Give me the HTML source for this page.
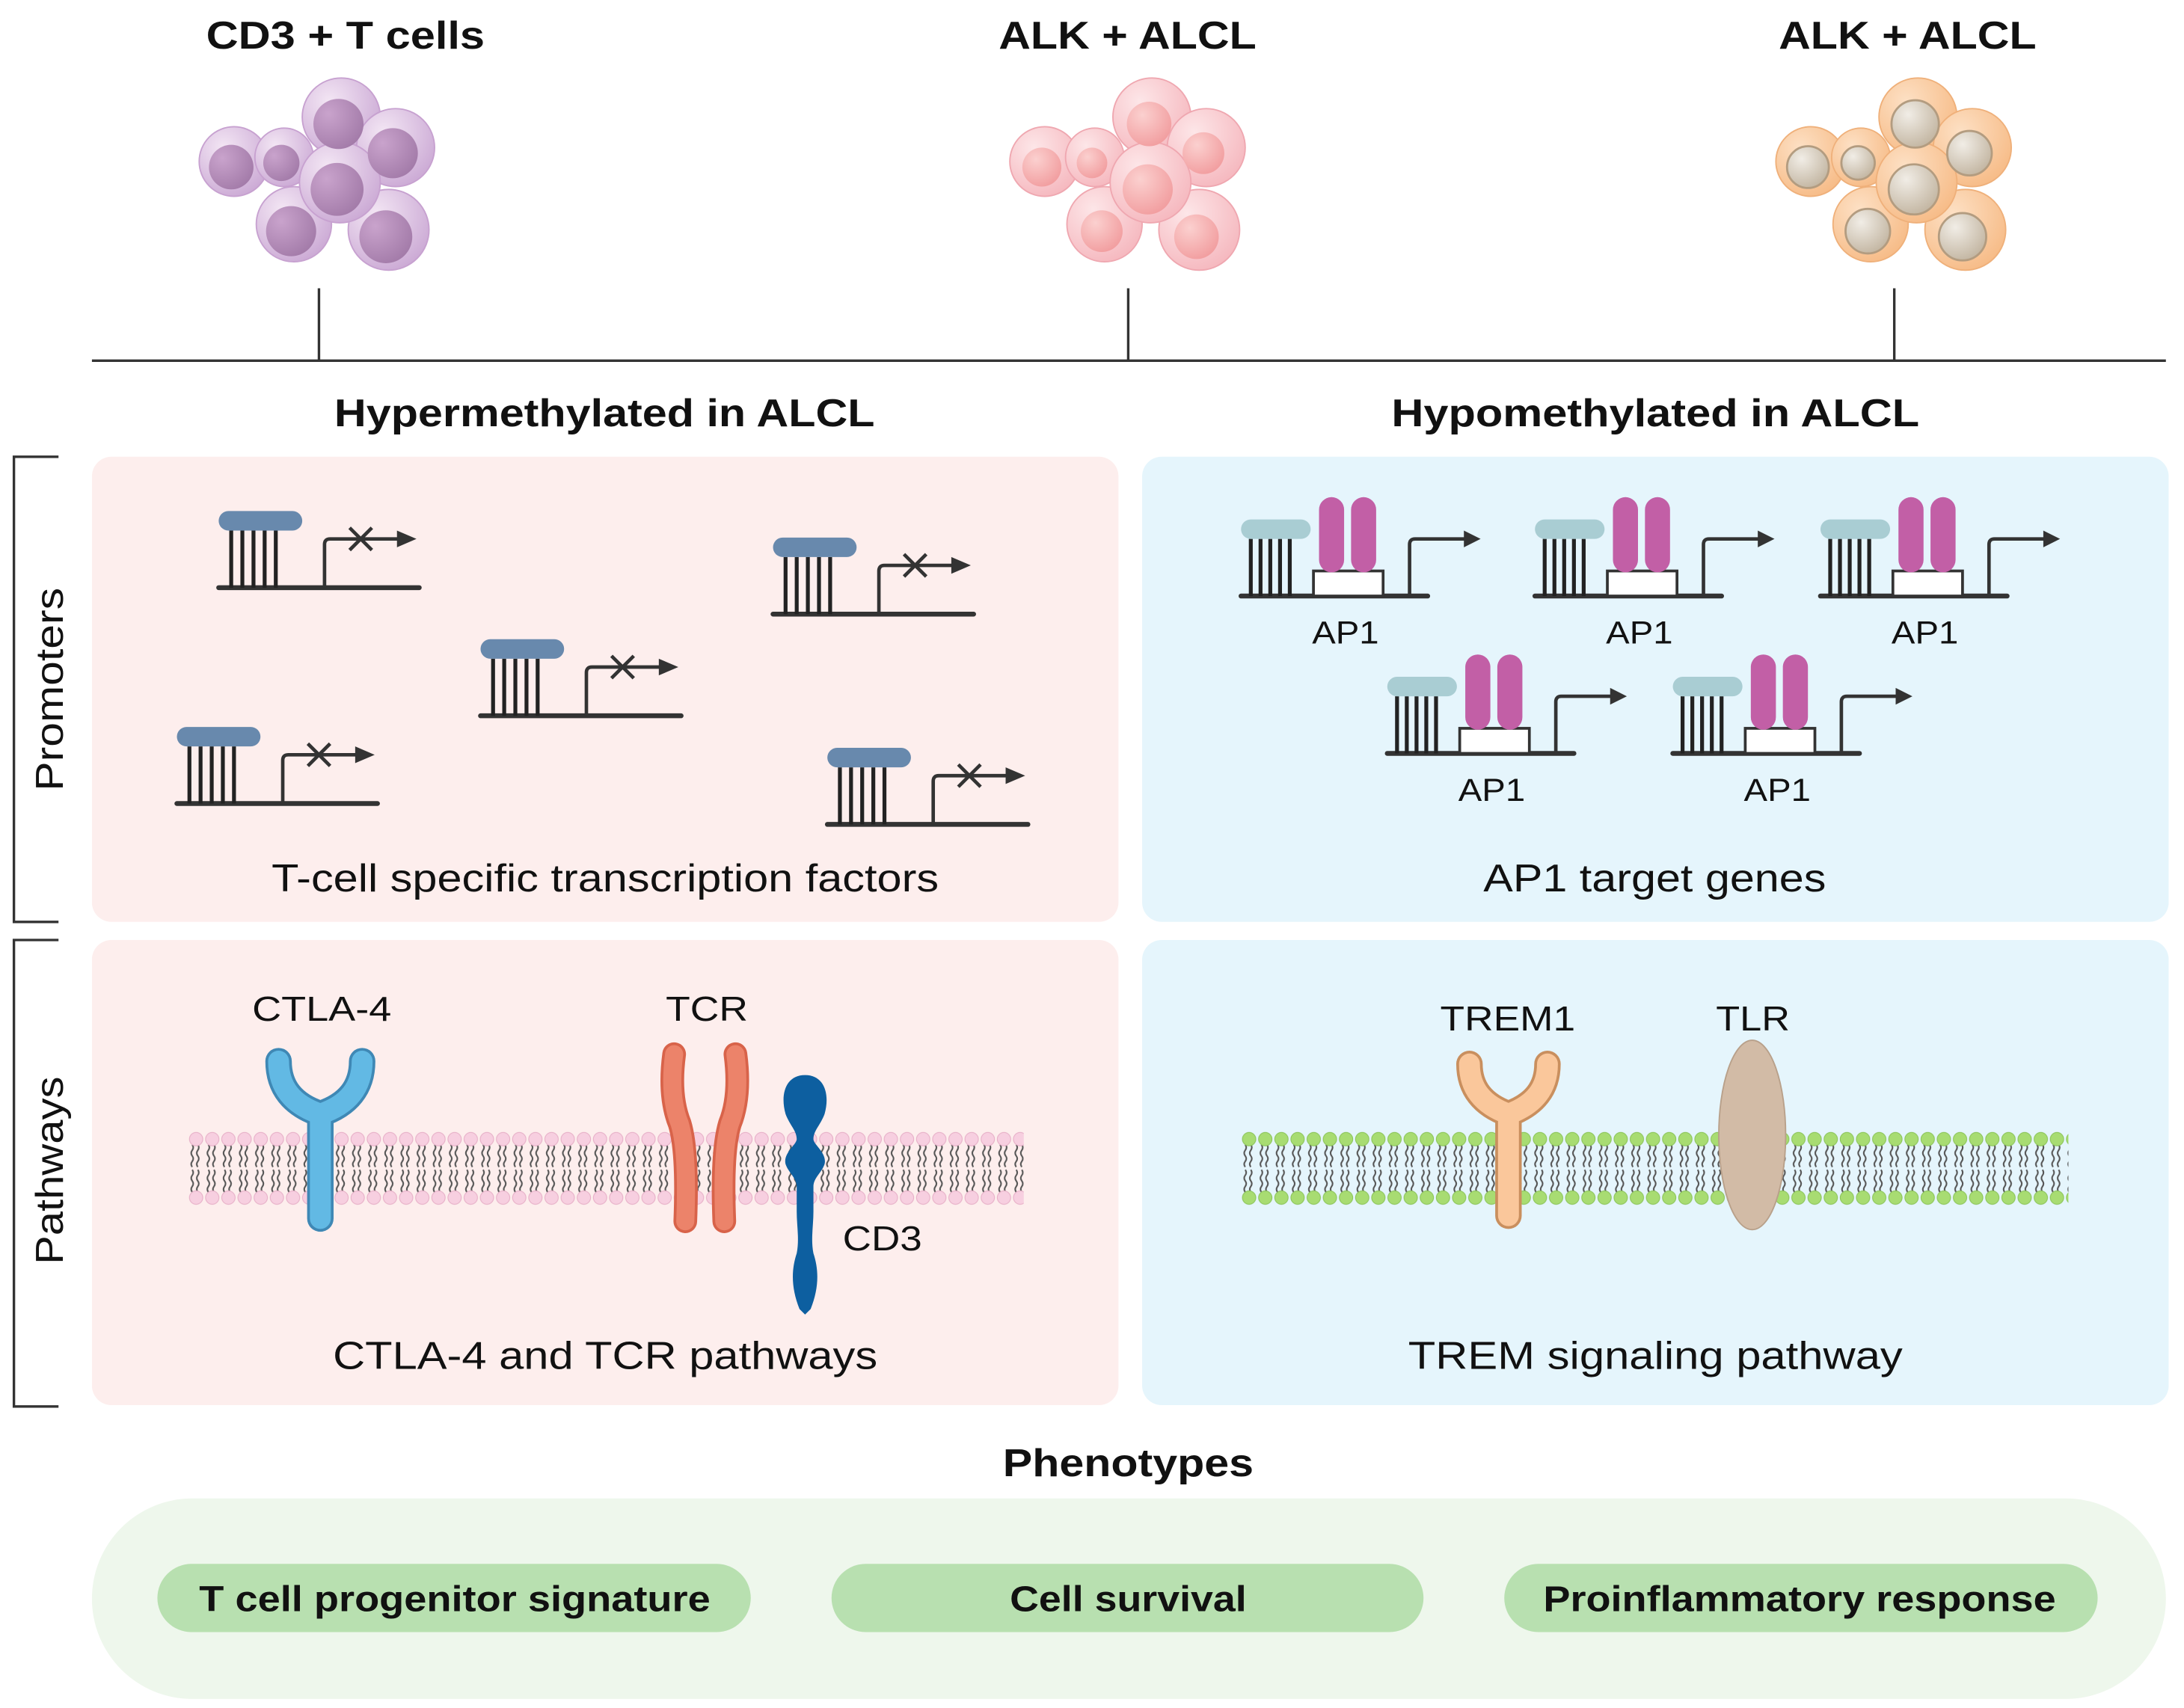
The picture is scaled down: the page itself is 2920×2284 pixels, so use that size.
<!DOCTYPE html>
<html><head><meta charset="utf-8">
<style>
html,body{margin:0;padding:0;background:#fff;}
svg{display:block;}
text{font-family:"Liberation Sans",Arial,sans-serif;fill:#111;}
</style></head>
<body>
<svg width="2920" height="2284" viewBox="0 0 1568 1226.5" preserveAspectRatio="none" xmlns="http://www.w3.org/2000/svg">
<defs>
  <radialGradient id="gP" cx="0.35" cy="0.3" r="0.8"><stop offset="0" stop-color="#f3e6f4"/><stop offset="1" stop-color="#c9a6d3"/></radialGradient>
  <radialGradient id="gPn" cx="0.3" cy="0.3" r="0.8"><stop offset="0" stop-color="#c9a3cc"/><stop offset="1" stop-color="#a27aa8"/></radialGradient>
  <radialGradient id="gK" cx="0.35" cy="0.3" r="0.8"><stop offset="0" stop-color="#fde6e8"/><stop offset="1" stop-color="#f5b5bc"/></radialGradient>
  <radialGradient id="gKn" cx="0.35" cy="0.3" r="0.8"><stop offset="0" stop-color="#fbd0cf"/><stop offset="1" stop-color="#f19a9c"/></radialGradient>
  <radialGradient id="gO" cx="0.35" cy="0.3" r="0.8"><stop offset="0" stop-color="#fde0c4"/><stop offset="1" stop-color="#f6b983"/></radialGradient>
  <radialGradient id="gOn" cx="0.35" cy="0.3" r="0.8"><stop offset="0" stop-color="#f1ede6"/><stop offset="1" stop-color="#bfb19c"/></radialGradient>
  <pattern id="memP" x="135" y="810" width="11.6" height="56" patternUnits="userSpaceOnUse">
    <path d="M3 12 q1.5 2 0 4 q-1.5 2 0 4 q1.5 2 0 4 q-1.5 2 0 4 M7 12 q1.5 2 0 4 q-1.5 2 0 4 q1.5 2 0 4 q-1.5 2 0 4 M3 30 q1.5 2 0 4 q-1.5 2 0 4 q1.5 2 0 4 q-1.5 2 0 4 M7 30 q1.5 2 0 4 q-1.5 2 0 4 q1.5 2 0 4 q-1.5 2 0 4" stroke="#555" stroke-width="1.1" fill="none"/>
    <circle cx="5.8" cy="8" r="4.8" fill="#f7cfe0" stroke="#e7b0c8" stroke-width="0.6"/>
    <circle cx="5.8" cy="50" r="4.8" fill="#f7cfe0" stroke="#e7b0c8" stroke-width="0.6"/>
  </pattern>
  <pattern id="memG" x="891" y="810" width="11.6" height="56" patternUnits="userSpaceOnUse">
    <path d="M3 12 q1.5 2 0 4 q-1.5 2 0 4 q1.5 2 0 4 q-1.5 2 0 4 M7 12 q1.5 2 0 4 q-1.5 2 0 4 q1.5 2 0 4 q-1.5 2 0 4 M3 30 q1.5 2 0 4 q-1.5 2 0 4 q1.5 2 0 4 q-1.5 2 0 4 M7 30 q1.5 2 0 4 q-1.5 2 0 4 q1.5 2 0 4 q-1.5 2 0 4" stroke="#555" stroke-width="1.1" fill="none"/>
    <circle cx="5.8" cy="8" r="4.8" fill="#a8dc72" stroke="#8cc55a" stroke-width="0.6"/>
    <circle cx="5.8" cy="50" r="4.8" fill="#a8dc72" stroke="#8cc55a" stroke-width="0.6"/>
  </pattern>
  <g id="hyper">
    <path d="M0 55 H144" stroke="#333" stroke-width="3.5" stroke-linecap="round"/>
    <path d="M9 14 V55 M17 14 V55 M25 14 V55 M33 14 V55 M41 14 V55" stroke="#222" stroke-width="2.8"/>
    <rect x="0" y="0" width="60" height="14" rx="7" fill="#6889ad"/>
    <path d="M76 55 V24 q0-4 4-4 H134" stroke="#333" stroke-width="2.5" fill="none"/>
    <path d="M128 14 L142 20 L128 26 Z" fill="#333"/>
    <path d="M94 12 L110 28 M110 12 L94 28" stroke="#333" stroke-width="2.5"/>
  </g>
  <g id="hypo">
    <path d="M0 55 H134" stroke="#333" stroke-width="3.5" stroke-linecap="round"/>
    <path d="M7 14 V55 M14 14 V55 M21 14 V55 M28 14 V55 M35 14 V55" stroke="#222" stroke-width="2.8"/>
    <rect x="0" y="0" width="50" height="14" rx="7" fill="#a9cdd3"/>
    <rect x="52" y="37" width="50" height="18" fill="#fff" stroke="#333" stroke-width="2"/>
    <rect x="56" y="-16" width="18" height="54" rx="9" fill="#c25fa6"/>
    <rect x="79" y="-16" width="18" height="54" rx="9" fill="#c25fa6"/>
    <path d="M121 55 V18 q0-4 4-4 H164" stroke="#333" stroke-width="2.5" fill="none"/>
    <path d="M160 8 L172 14 L160 20 Z" fill="#333"/>
  </g>
</defs>

<!-- titles -->
<text x="148" y="35" font-size="28" font-weight="bold" textLength="200" lengthAdjust="spacingAndGlyphs">CD3 + T cells</text>
<text x="717" y="35" font-size="28" font-weight="bold" textLength="185" lengthAdjust="spacingAndGlyphs">ALK + ALCL</text>
<text x="1277" y="35" font-size="28" font-weight="bold" textLength="185" lengthAdjust="spacingAndGlyphs">ALK + ALCL</text>

<!-- cell clusters -->
<g>
  <g fill="url(#gP)" stroke="#c7a1d0" stroke-width="1">
    <circle cx="168" cy="116" r="25"/><circle cx="204" cy="113" r="21"/><circle cx="245" cy="84" r="28"/><circle cx="284" cy="106" r="28"/><circle cx="211" cy="161" r="27"/><circle cx="279" cy="165" r="29"/><circle cx="244" cy="131" r="29"/>
  </g>
  <g fill="url(#gPn)">
    <circle cx="166" cy="120" r="16"/><circle cx="202" cy="117" r="13"/><circle cx="243" cy="89" r="18"/><circle cx="282" cy="110" r="18"/><circle cx="209" cy="166" r="18"/><circle cx="277" cy="170" r="19"/><circle cx="242" cy="136" r="19"/>
  </g>
</g>
<g transform="translate(582,0)">
  <g fill="url(#gK)" stroke="#efa7b0" stroke-width="1">
    <circle cx="168" cy="116" r="25"/><circle cx="204" cy="113" r="21"/><circle cx="245" cy="84" r="28"/><circle cx="284" cy="106" r="28"/><circle cx="211" cy="161" r="27"/><circle cx="279" cy="165" r="29"/><circle cx="244" cy="131" r="29"/>
  </g>
  <g fill="url(#gKn)">
    <circle cx="166" cy="120" r="14"/><circle cx="202" cy="117" r="11"/><circle cx="243" cy="89" r="16"/><circle cx="282" cy="110" r="15"/><circle cx="209" cy="166" r="15"/><circle cx="277" cy="170" r="16"/><circle cx="242" cy="136" r="18"/>
  </g>
</g>
<g transform="translate(1132,0)">
  <g fill="url(#gO)" stroke="#efb07a" stroke-width="1">
    <circle cx="168" cy="116" r="25"/><circle cx="204" cy="113" r="21"/><circle cx="245" cy="84" r="28"/><circle cx="284" cy="106" r="28"/><circle cx="211" cy="161" r="27"/><circle cx="279" cy="165" r="29"/><circle cx="244" cy="131" r="29"/>
  </g>
  <g fill="url(#gOn)" stroke="#b39c80" stroke-width="1.5">
    <circle cx="166" cy="120" r="15"/><circle cx="202" cy="117" r="12"/><circle cx="243" cy="89" r="17"/><circle cx="282" cy="110" r="16"/><circle cx="209" cy="166" r="16"/><circle cx="277" cy="170" r="17"/><circle cx="242" cy="136" r="18"/>
  </g>
</g>

<!-- timeline -->
<path d="M66 259 H1555 M229 207 V259 M810 207 V259 M1360 207 V259" stroke="#333" stroke-width="1.8" fill="none"/>

<text x="240" y="306" font-size="28" font-weight="bold" textLength="388" lengthAdjust="spacingAndGlyphs">Hypermethylated in ALCL</text>
<text x="999" y="306" font-size="28" font-weight="bold" textLength="379" lengthAdjust="spacingAndGlyphs">Hypomethylated in ALCL</text>

<!-- brackets -->
<path d="M42 328 H10 V662 H42 M42 675 H10 V1010 H42" stroke="#333" stroke-width="1.8" fill="none"/>
<text transform="translate(45,568) rotate(-90)" font-size="28" textLength="146" lengthAdjust="spacingAndGlyphs">Promoters</text>
<text transform="translate(45,908) rotate(-90)" font-size="28" textLength="135" lengthAdjust="spacingAndGlyphs">Pathways</text>

<!-- boxes -->
<rect x="66" y="328" width="737" height="334" rx="14" fill="#fdeeed"/>
<rect x="66" y="675" width="737" height="334" rx="14" fill="#fdeeed"/>
<rect x="820" y="328" width="737" height="334" rx="14" fill="#e5f5fc"/>
<rect x="820" y="675" width="737" height="334" rx="14" fill="#e5f5fc"/>

<!-- hyper promoters -->
<use href="#hyper" x="157" y="367"/>
<use href="#hyper" x="555" y="386"/>
<use href="#hyper" x="345" y="459"/>
<use href="#hyper" x="127" y="522"/>
<use href="#hyper" x="594" y="537"/>
<text x="195" y="640" font-size="28" textLength="479" lengthAdjust="spacingAndGlyphs">T-cell specific transcription factors</text>

<!-- hypo promoters -->
<use href="#hypo" x="891" y="373"/>
<use href="#hypo" x="1102" y="373"/>
<use href="#hypo" x="1307" y="373"/>
<use href="#hypo" x="996" y="486"/>
<use href="#hypo" x="1201" y="486"/>
<g font-size="23">
<text x="942" y="462" textLength="48" lengthAdjust="spacingAndGlyphs">AP1</text><text x="1153" y="462" textLength="48" lengthAdjust="spacingAndGlyphs">AP1</text><text x="1358" y="462" textLength="48" lengthAdjust="spacingAndGlyphs">AP1</text>
<text x="1047" y="575" textLength="48" lengthAdjust="spacingAndGlyphs">AP1</text><text x="1252" y="575" textLength="48" lengthAdjust="spacingAndGlyphs">AP1</text>
</g>
<text x="1065" y="640" font-size="28" textLength="246" lengthAdjust="spacingAndGlyphs">AP1 target genes</text>

<!-- membranes -->
<rect x="135" y="810" width="600" height="56" fill="url(#memP)"/>
<rect x="891" y="810" width="594" height="56" fill="url(#memG)"/>

<!-- CTLA-4 -->
<path d="M200 762 q0 28 30 38 q30-10 30-38 M230 800 V875" stroke="#3f88b5" stroke-width="19" fill="none" stroke-linecap="round" stroke-linejoin="round"/>
<path d="M200 762 q0 28 30 38 q30-10 30-38 M230 800 V875" stroke="#62b9e4" stroke-width="15" fill="none" stroke-linecap="round" stroke-linejoin="round"/>
<text x="181" y="733" font-size="25" textLength="100" lengthAdjust="spacingAndGlyphs">CTLA-4</text>

<!-- TCR -->
<path d="M484 757 q-4 30 4 50 q6 20 4 70" stroke="#d8634a" stroke-width="17" fill="none" stroke-linecap="round"/>
<path d="M484 757 q-4 30 4 50 q6 20 4 70" stroke="#ec836a" stroke-width="13" fill="none" stroke-linecap="round"/>
<path d="M528 757 q4 30 -4 50 q-6 20 -4 70" stroke="#d8634a" stroke-width="17" fill="none" stroke-linecap="round"/>
<path d="M528 757 q4 30 -4 50 q-6 20 -4 70" stroke="#ec836a" stroke-width="13" fill="none" stroke-linecap="round"/>
<text x="478" y="733" font-size="25" textLength="59" lengthAdjust="spacingAndGlyphs">TCR</text>

<!-- CD3 -->
<path d="M578 772 C592 772 596 786 592 800 C589 808 584 812 584 818 C584 822 594 828 592 836 C590 842 584 846 584 852 L584 870 C584 880 582 890 584 900 C588 912 588 925 582 940 L578 944 L574 940 C568 925 568 912 572 900 C574 890 572 880 572 870 L572 852 C572 846 566 842 564 836 C562 828 572 822 572 818 C572 812 567 808 564 800 C560 786 564 772 578 772 Z" fill="#0d5fa0"/>
<text x="605" y="898" font-size="25" textLength="57" lengthAdjust="spacingAndGlyphs">CD3</text>
<text x="239" y="983" font-size="28" textLength="391" lengthAdjust="spacingAndGlyphs">CTLA-4 and TCR pathways</text>

<!-- TREM1 -->
<path d="M1055 764 q0 26 28 36 q28-10 28-36 M1083 800 V873" stroke="#c98f5e" stroke-width="19" fill="none" stroke-linecap="round" stroke-linejoin="round"/>
<path d="M1055 764 q0 26 28 36 q28-10 28-36 M1083 800 V873" stroke="#fac79b" stroke-width="15" fill="none" stroke-linecap="round" stroke-linejoin="round"/>
<text x="1034" y="740" font-size="25" textLength="97" lengthAdjust="spacingAndGlyphs">TREM1</text>
<!-- TLR -->
<ellipse cx="1258" cy="815" rx="24" ry="68" fill="#d2bba6" stroke="#b8a08a" stroke-width="1"/>
<text x="1232" y="740" font-size="25" textLength="53" lengthAdjust="spacingAndGlyphs">TLR</text>
<text x="1011" y="983" font-size="28" textLength="355" lengthAdjust="spacingAndGlyphs">TREM signaling pathway</text>

<!-- phenotypes -->
<text x="720" y="1060" font-size="28" font-weight="bold" textLength="180" lengthAdjust="spacingAndGlyphs">Phenotypes</text>
<rect x="66" y="1076" width="1489" height="144" rx="72" fill="#eef7ec"/>
<rect x="113" y="1123" width="426" height="49" rx="24.5" fill="#b8e0b0"/>
<rect x="597" y="1123" width="425" height="49" rx="24.5" fill="#b8e0b0"/>
<rect x="1080" y="1123" width="426" height="49" rx="24.5" fill="#b8e0b0"/>
<g font-size="26" font-weight="bold">
<text x="143" y="1157" textLength="367" lengthAdjust="spacingAndGlyphs">T cell progenitor signature</text>
<text x="725" y="1157" textLength="170" lengthAdjust="spacingAndGlyphs">Cell survival</text>
<text x="1108" y="1157" textLength="368" lengthAdjust="spacingAndGlyphs">Proinflammatory response</text>
</g>
</svg>
</body></html>
